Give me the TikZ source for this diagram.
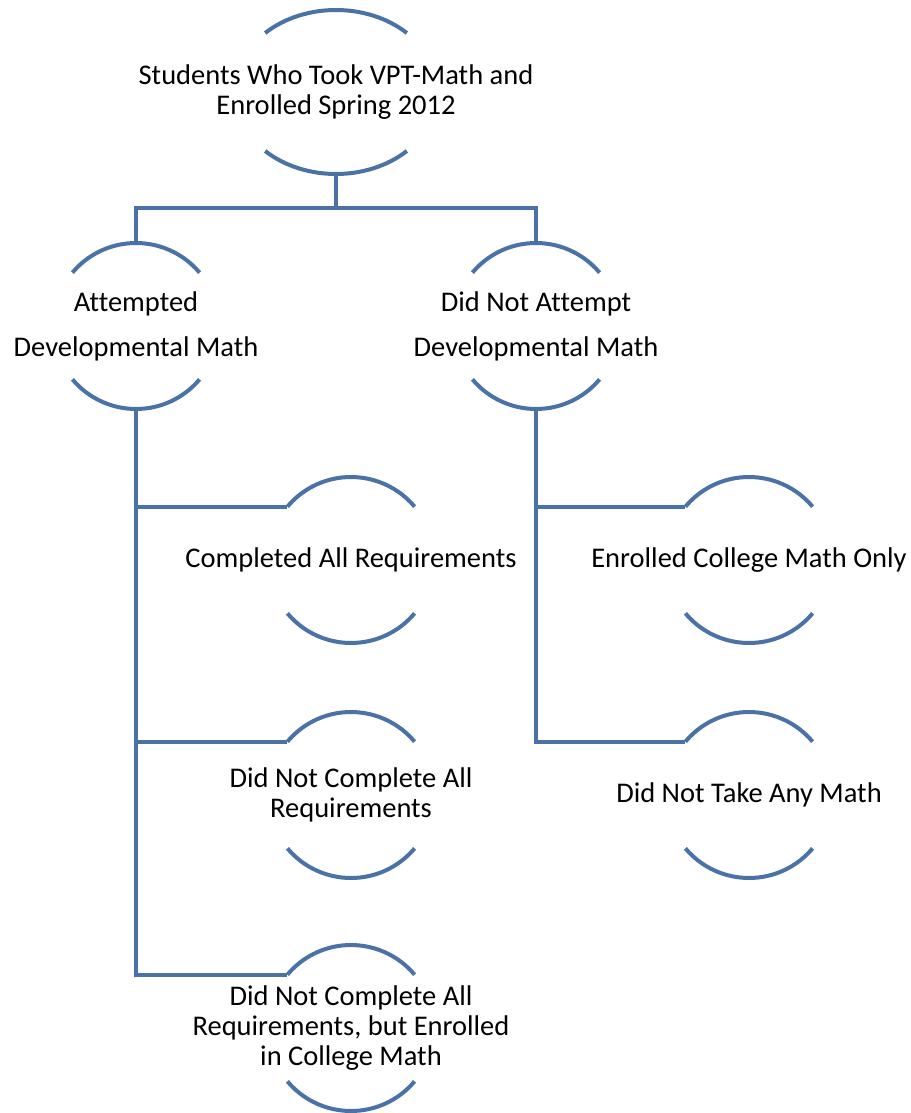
\documentclass[tikz,border=0pt]{standalone}
\usepackage{fontspec}
\setmainfont{Carlito}[Ligatures=NoCommon]
\definecolor{rimblue}{RGB}{74,114,166}
\tikzset{
  label/.style={align=center, font=\fontsize{28.5}{30}\selectfont, inner sep=0pt},
  rim/.style={draw=rimblue, line width=4pt},
  link/.style={draw=rimblue, line width=4pt}
}
\begin{document}
\begin{tikzpicture}[x=1pt,y=1pt]
        \useasboundingbox (0,0) rectangle (910,-1113);
        % boxes
        \node[label] (top) at (336,-92) {Students Who Took VPT-Math and\\Enrolled Spring 2012};
        \node[label] (att) at (136,-326) {Attempted\\[15pt]Developmental Math};
        \node[label] (dna) at (536,-326) {Did Not Attempt\\[15pt]Developmental Math};
        \node[label] (comp) at (351,-560) {Completed All Requirements};
        \node[label] (dnc) at (351,-795) {Did Not Complete All\\Requirements};
        \node[label] (dnce) at (351,-1028) {Did Not Complete All\\Requirements, but Enrolled\\in College Math};
        \node[label] (ecm) at (749,-560) {Enrolled College Math Only};
        \node[label] (dnt) at (749,-795) {Did Not Take Any Math};
        % rims
        \draw[rim] (top.center) ++(46:102 and 82) arc[start angle=46, end angle=134, x radius=102, y radius=82];
        \draw[rim] (top.center) ++(-134:102 and 82) arc[start angle=-134, end angle=-46, x radius=102, y radius=82];
        \draw[rim] (att.center) ++(40:83) arc[start angle=40, end angle=140, radius=83];
        \draw[rim] (att.center) ++(-140:83) arc[start angle=-140, end angle=-40, radius=83];
        \draw[rim] (dna.center) ++(40:83) arc[start angle=40, end angle=140, radius=83];
        \draw[rim] (dna.center) ++(-140:83) arc[start angle=-140, end angle=-40, radius=83];
        \draw[rim] (comp.center) ++(40:83) arc[start angle=40, end angle=140, radius=83];
        \draw[rim] (comp.center) ++(-140:83) arc[start angle=-140, end angle=-40, radius=83];
        \draw[rim] (dnc.center) ++(40:83) arc[start angle=40, end angle=140, radius=83];
        \draw[rim] (dnc.center) ++(-140:83) arc[start angle=-140, end angle=-40, radius=83];
        \draw[rim] (dnce.center) ++(40:83) arc[start angle=40, end angle=140, radius=83];
        \draw[rim] (dnce.center) ++(-140:83) arc[start angle=-140, end angle=-40, radius=83];
        \draw[rim] (ecm.center) ++(40:83) arc[start angle=40, end angle=140, radius=83];
        \draw[rim] (ecm.center) ++(-140:83) arc[start angle=-140, end angle=-40, radius=83];
        \draw[rim] (dnt.center) ++(40:83) arc[start angle=40, end angle=140, radius=83];
        \draw[rim] (dnt.center) ++(-140:83) arc[start angle=-140, end angle=-40, radius=83];
        % ends of the rims
        \coordinate (top-s) at ([yshift=-82pt]top.center);
        \coordinate (fork) at ([yshift=-116pt]top.center);
        \coordinate (att-n) at ([yshift=83pt]att.center);
        \coordinate (att-s) at ([yshift=-83pt]att.center);
        \coordinate (dna-n) at ([yshift=83pt]dna.center);
        \coordinate (dna-s) at ([yshift=-83pt]dna.center);
        \coordinate (comp-w) at ([shift={(-64pt,53pt)}]comp.center);
        \coordinate (dnc-w) at ([shift={(-64pt,53pt)}]dnc.center);
        \coordinate (dnce-w) at ([shift={(-64pt,53pt)}]dnce.center);
        \coordinate (ecm-w) at ([shift={(-64pt,53pt)}]ecm.center);
        \coordinate (dnt-w) at ([shift={(-64pt,53pt)}]dnt.center);
        % links
        \draw[link] (top-s) -- (fork);
        \draw[link] (att-n) |- (fork) -| (dna-n);
        \draw[link] (att-s) |- (dnce-w);
        \draw[link] (att-s |- comp-w) -- (comp-w);
        \draw[link] (att-s |- dnc-w) -- (dnc-w);
        \draw[link] (dna-s) |- (dnt-w);
        \draw[link] (dna-s |- ecm-w) -- (ecm-w);
\end{tikzpicture}
\end{document}
